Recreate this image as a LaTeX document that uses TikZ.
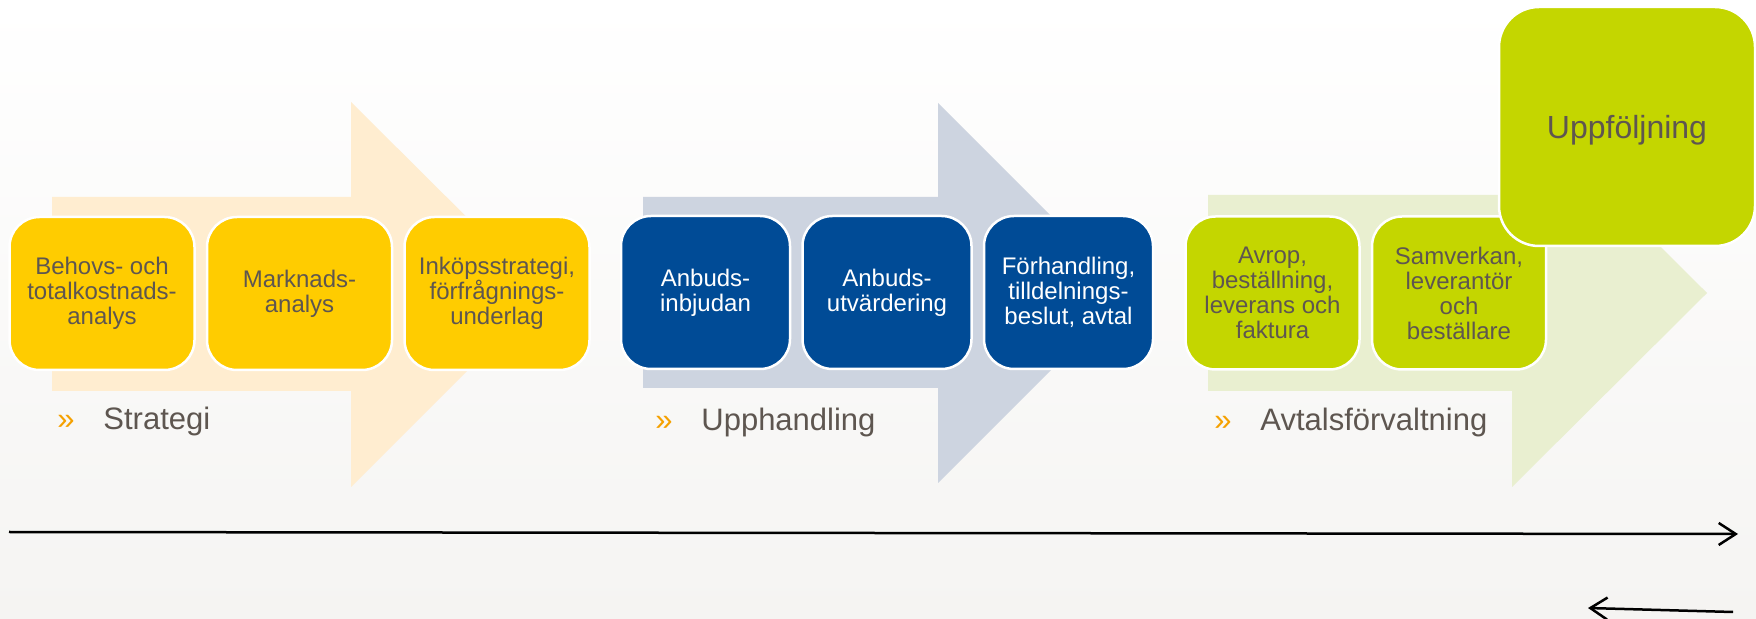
\documentclass[tikz,border=0pt]{standalone}
\usepackage{fontspec}
\setmainfont{Liberation Sans}
\usetikzlibrary{positioning,arrows.meta}
\definecolor{peach}{RGB}{255,237,208}
\definecolor{bluegray}{RGB}{205,212,224}
\definecolor{palegreen}{RGB}{233,239,208}
\definecolor{sunyellow}{RGB}{255,204,0}
\definecolor{deepblue}{RGB}{0,75,150}
\definecolor{lime}{RGB}{196,214,0}
\definecolor{textgray}{RGB}{94,86,80}
\definecolor{bulletorange}{RGB}{245,161,0}
\definecolor{bgbottom}{RGB}{245,244,242}
\begin{document}
\begin{tikzpicture}[x=0.5pt, y=-0.5pt,
   every node/.style={font=\fontsize{12}{12.5}\selectfont, align=center},
   stepbox/.style={draw=white, line width=1.25pt, rounded corners=15pt,
                   minimum height=76.5pt, inner sep=2pt},
   ybox/.style={stepbox, fill=sunyellow, text=textgray, minimum width=92.5pt},
   bbox/.style={stepbox, fill=deepblue, text=white, minimum width=84.5pt},
   gbox/.style={stepbox, fill=lime, text=textgray, minimum width=87pt},
   phase/.style={anchor=base west, inner sep=0pt, text=textgray,
                 font=\fontsize{15.5}{18}\selectfont},
   chevron/.style={anchor=base west, inner sep=0pt, text=bulletorange,
                   font=\fontsize{15.5}{18}\selectfont},
   timeline/.style={line width=1.25pt, -{Straight Barb[length=8.5pt,width=11pt]}}]

\useasboundingbox (0,0) rectangle (1756,619);
\shade[top color=white, bottom color=bgbottom] (0,0) rectangle (1756,619);

% phase arrows
\fill[peach] (52,197) -- (351,197) -- (351,102) -- (544,294) -- (351,487)
   -- (351,391) -- (52,391) -- cycle;
\fill[bluegray] (643,197) -- (938,197) -- (938,103) -- (1128,293) -- (938,483)
   -- (938,388) -- (643,388) -- cycle;
\fill[palegreen] (1208,195) -- (1512,195) -- (1512,99) -- (1707,293) -- (1512,487)
   -- (1512,391) -- (1208,391) -- cycle;

% strategi
\node[ybox] (behov) at (102,293.5) {Behovs- och\\totalkostnads-\\analys};
\node[ybox, right=5pt of behov] (marknad) {Marknads-\\analys};
\node[ybox, right=5pt of marknad] (inkop) {Inköpsstrategi,\\förfrågnings-\\underlag};

% upphandling
\node[bbox] (inbjudan) at (705.5,292.5) {Anbuds-\\inbjudan};
\node[bbox, right=5pt of inbjudan] (utvardering) {Anbuds-\\utvärdering};
\node[bbox, right=5pt of utvardering] (forhandling) {Förhandling,\\tilldelnings-\\beslut, avtal};

% avtalsförvaltning
\node[gbox] (avrop) at (1272.5,293) {Avrop,\\beställning,\\leverans och\\faktura};
\node[gbox, right=5pt of avrop] (samverkan) {Samverkan,\\leverantör\\och\\beställare};
\node[stepbox, fill=lime, text=textgray, minimum width=128pt, minimum height=119.5pt,
      rounded corners=20pt, text depth=0pt, font=\fontsize{16}{18}\selectfont]
      (uppfoljning) at (1627,126.5) {Uppföljning};

\node[chevron] (chev1) at (57,430) {»};
\node[phase] (strategi) at (103,430) {Strategi};
\node[chevron] (chev2) at (655,431) {»};
\node[phase] (upphandling) at (701,431) {Upphandling};
\node[chevron] (chev3) at (1214,431) {»};
\node[phase] (avtal) at (1260,431) {Avtalsförvaltning};

\coordinate (tstart) at (9,532);
\coordinate (tend) at (1738,534);
\draw[timeline] (tstart) -- (tend);
\coordinate (rstart) at (1733,612);
\coordinate (rend) at (1588,608);
\draw[timeline] (rstart) -- (rend);

\end{tikzpicture}
\end{document}
